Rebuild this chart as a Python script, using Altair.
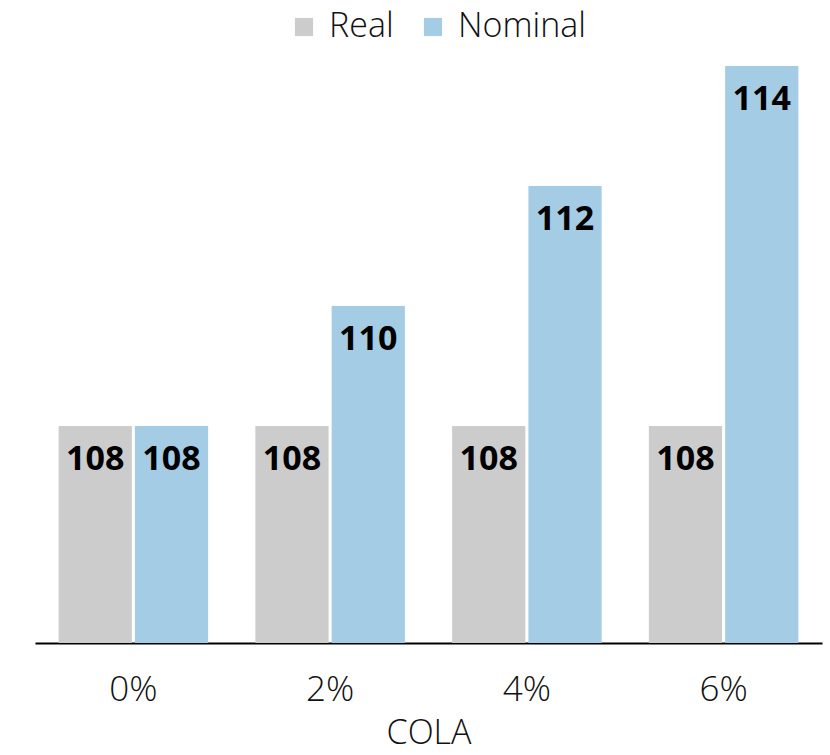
import altair as alt
import pandas as pd

categories = ["0%", "2%", "4%", "6%"]
real = [108, 108, 108, 108]
nominal = [108, 110, 112, 114]
series = ["Real", "Nominal"]
colors = ["#cccccc", "#a4cce4"]

rows = []
for c, r, n in zip(categories, real, nominal):
    rows.append({"COLA": c, "Series": "Real", "Value": r})
    rows.append({"COLA": c, "Series": "Nominal", "Value": n})
df = pd.DataFrame(rows)

YMIN = 104.38
FONT = "Open Sans"

base = alt.Chart(df).encode(
    x=alt.X("COLA:N", sort=categories, title="COLA",
            scale=alt.Scale(paddingInner=0.24, paddingOuter=0.12),
            axis=alt.Axis(labelAngle=0, labelFontSize=35, labelFont=FONT, labelColor="#111",
                          labelFontWeight=300,
                          titleFontSize=34, titleFont=FONT, titleColor="#111", titleFontWeight=300,
                          ticks=False, domainColor="black", domainWidth=2, labelPadding=29,
                          titlePadding=9, grid=False)),
    xOffset=alt.XOffset("Series:N", sort=series, scale=alt.Scale(paddingInner=0.04)),
)

bars = base.mark_bar().encode(
    y=alt.Y("Value:Q", scale=alt.Scale(domain=[YMIN, 114], nice=False, zero=False), axis=None),
    y2=alt.datum(YMIN),
    color=alt.Color("Series:N", sort=series, scale=alt.Scale(domain=series, range=colors),
                    legend=alt.Legend(title=None, orient="none", direction="horizontal",
                                      legendX=252, legendY=-56, labelFontSize=34, labelFont=FONT,
                                      labelColor="#111", labelFontWeight=300,
                                      symbolType="square", symbolSize=330,
                                      symbolStrokeWidth=0, columnPadding=22, labelOffset=8)),
)

labels = base.mark_text(fontSize=34, font=FONT, fontWeight="bold", color="black",
                        baseline="middle", dy=34).encode(
    y=alt.Y("Value:Q"),
    text=alt.Text("Value:Q"),
)

chart = alt.layer(bars, labels).properties(
    width=787, height=577,
    autosize=alt.AutoSizeParams(type="none"),
    padding={"left": 35, "top": 66, "right": 8, "bottom": 112},
).configure_view(stroke=None)

chart.save("out.html", embed_options={"renderer": "svg", "actions": False})
